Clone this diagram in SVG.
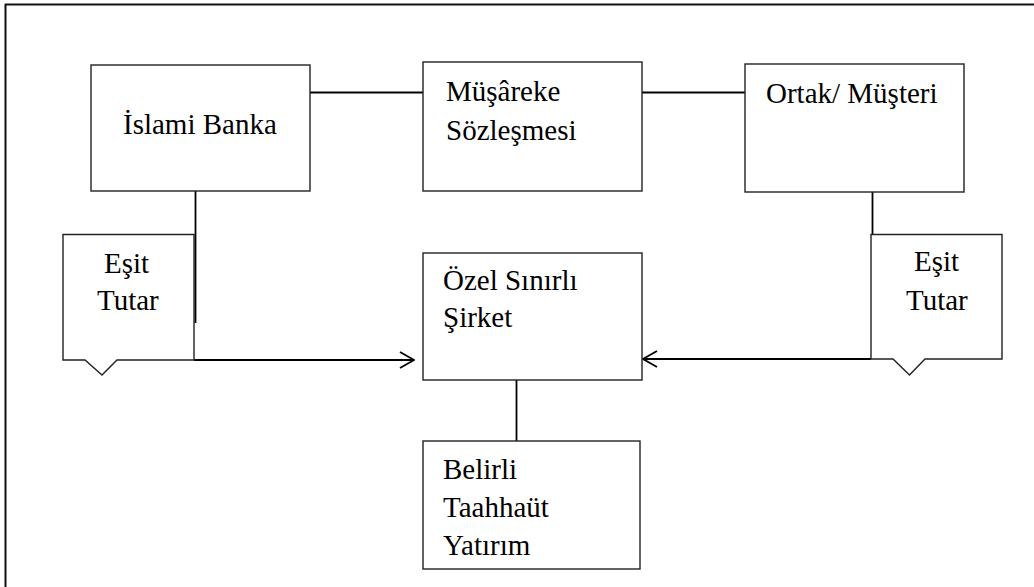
<svg xmlns="http://www.w3.org/2000/svg" width="1034" height="587" viewBox="0 0 1034 587">
<style>
.box{fill:#fff;stroke:#222;stroke-width:1.4}
.ln{fill:none;stroke:#000;stroke-width:1.8}
.frame{fill:none;stroke:#111;stroke-width:2}
text{font-family:"Liberation Serif","Times New Roman",serif;font-size:29px;fill:#000}
</style>
<defs>
<marker id="open" viewBox="0 0 16 18" refX="15" refY="9" markerWidth="16" markerHeight="18" markerUnits="userSpaceOnUse" orient="auto">
<path d="M1,1 L15,9 L1,17" fill="none" stroke="#000" stroke-width="1.8"/>
</marker>
</defs>
<rect width="1034" height="587" fill="#fff"/>
<g id="frame">
<line class="frame" x1="5" y1="4.5" x2="1034" y2="4.5"/>
<line class="frame" x1="5.5" y1="4" x2="5.5" y2="587" stroke="#555"/>
</g>
<g id="connectors">
<line class="ln" x1="310" y1="92.5" x2="423" y2="92.5"/>
<line class="ln" x1="642" y1="92.5" x2="745" y2="92.5"/>
<line class="ln" x1="195.5" y1="191" x2="195.5" y2="323"/>
<line class="ln" x1="872.5" y1="192" x2="872.5" y2="235"/>
<line class="ln" x1="194" y1="360" x2="414" y2="360" marker-end="url(#open)"/>
<line class="ln" x1="871" y1="359" x2="643" y2="359" marker-end="url(#open)"/>
<line class="ln" x1="516.5" y1="380" x2="516.5" y2="441"/>
</g>
<g id="islami-banka">
<rect class="box" x="91" y="65" width="219" height="126"/>
<text x="123" y="134">İslami Banka</text>
</g>
<g id="musareke">
<rect class="box" x="423" y="62" width="219" height="129"/>
<text x="446" y="101">Müşâreke</text>
<text x="446" y="140">Sözleşmesi</text>
</g>
<g id="ortak-musteri">
<rect class="box" x="745" y="64" width="219" height="128"/>
<text x="766" y="103">Ortak/ Müşteri</text>
</g>
<g id="esit-tutar-left">
<path class="box" d="M63,234.5 L194,234.5 L194,360 L117,360 L102,375 L85,360 L63,360 Z"/>
<text x="104" y="272.5">Eşit</text>
<text x="97" y="310">Tutar</text>
</g>
<g id="esit-tutar-right">
<path class="box" d="M871,234.5 L1002,234.5 L1002,359 L925,359 L909.5,375 L893,359 L871,359 Z"/>
<text x="914" y="271">Eşit</text>
<text x="906" y="309.5">Tutar</text>
</g>
<g id="ozel-sinirli-sirket">
<rect class="box" x="423" y="253" width="219" height="127"/>
<text x="443" y="290">Özel Sınırlı</text>
<text x="443" y="327">Şirket</text>
</g>
<g id="belirli-taahhut-yatirim">
<rect class="box" x="423" y="441" width="217" height="128"/>
<text x="443" y="479">Belirli</text>
<text x="443" y="517">Taahhaüt</text>
<text x="443" y="555">Yatırım</text>
</g>
</svg>
